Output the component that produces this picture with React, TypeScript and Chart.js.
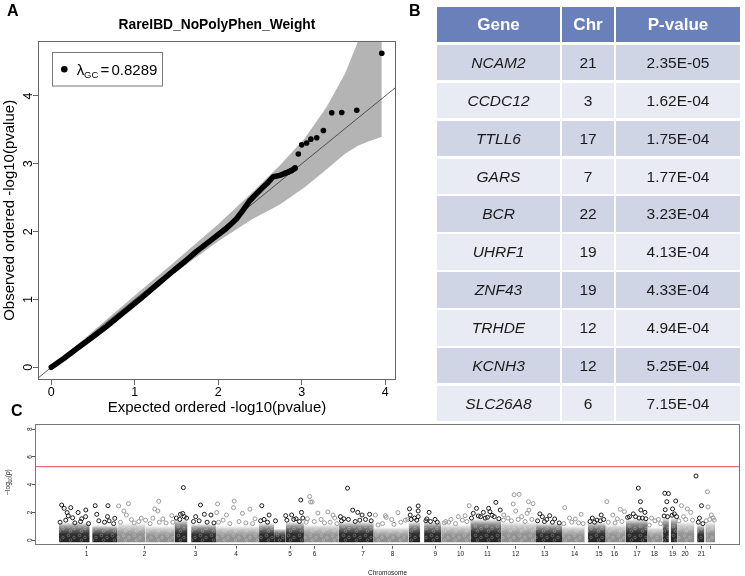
import React, { useEffect, useRef } from "react";
import { Chart, registerables } from "chart.js";
Chart.register(...registerables);

const FONT = '"Liberation Sans", Arial, Helvetica, sans-serif';

// ---------------- Panel A : QQ plot ----------------
const qqTitle = "RareIBD_NoPolyPhen_Weight";
const qqXTitle = "Expected ordered -log10(pvalue)";
const qqYTitle = "Observed ordered -log10(pvalue)";
const lambdaGC = "0.8289";
const qqXTicks = [0, 1, 2, 3, 4];
const qqYTicks = [0, 1, 2, 3, 4];
const curveExpected = [0, 0.15, 0.3, 0.5, 0.66, 0.85, 1.06, 1.25, 1.46, 1.6, 1.74, 1.9, 2.1, 2.22, 2.3, 2.38, 2.46, 2.54, 2.6, 2.66, 2.74, 2.84, 2.92];
const curveObserved = [0, 0.13, 0.27, 0.45, 0.6, 0.79, 1.0, 1.2, 1.42, 1.56, 1.71, 1.86, 2.05, 2.19, 2.32, 2.46, 2.56, 2.66, 2.73, 2.81, 2.83, 2.88, 2.93];
const tailExpected = [2.8, 2.84, 2.88, 2.92];
const tailObserved = [2.86, 2.88, 2.9, 2.94];
const topExpected = [3.96, 3.66, 3.48, 3.36, 3.26, 3.18, 3.11, 3.06, 3.0, 2.96];
const bandExpected = [0, 0.5, 1.0, 1.5, 2.0, 2.4, 2.74, 3.04, 3.3, 3.52, 3.68, 3.8, 3.96];
const bandUpper = [0.01, 0.53, 1.06, 1.58, 2.11, 2.57, 2.98, 3.38, 3.84, 4.33, 4.82, 5.2, 5.6];
const bandLower = [0, 0.48, 0.94, 1.41, 1.86, 2.18, 2.4, 2.66, 2.92, 3.15, 3.27, 3.33, 3.4];

// ---------------- Panel B : top genes ----------------
const tableHeaders = ["Gene", "Chr", "P-value"];
const genes = ["NCAM2", "CCDC12", "TTLL6", "GARS", "BCR", "UHRF1", "ZNF43", "TRHDE", "KCNH3", "SLC26A8"];
const geneChr = [21, 3, 17, 7, 22, 19, 19, 12, 12, 6];
const genePValue = [2.35e-5, 1.62e-4, 1.75e-4, 1.77e-4, 3.23e-4, 4.13e-4, 4.33e-4, 4.94e-4, 5.25e-4, 7.15e-4];
const genePos = [2795, 546, 2542, 1266, 2845, 2658, 2674, 2019, 1997, 1100];

// ---------------- Panel C : Manhattan ----------------
const chrTickPos = [121, 376, 599, 777, 1014, 1122, 1334, 1464, 1651, 1762, 1880, 2004, 2131, 2262, 2369, 2437, 2536, 2612, 2692, 2747, 2819, 2859];
const chrTickLabels = ["1", "2", "3", "4", "5", "6", "7", "8", "9", "10", "11", "12", "13", "14", "15", "16", "17", "18", "19", "20", "21", ""];
const manYTicks = [0, 2, 4, 6, 8];
const sigLine = 5.3;
const blockChr = [1, 1, 2, 2, 3, 3, 4, 5, 5, 5, 6, 7, 8, 9, 9, 10, 11, 12, 13, 14, 15, 16, 17, 18, 19, 19, 20, 21, 22];
const blockStart = [0, 146, 259, 380, 507, 580, 689, 878, 944, 995, 1075, 1228, 1381, 1534, 1602, 1678, 1805, 1940, 2093, 2207, 2320, 2399, 2487, 2583, 2648, 2684, 2714, 2800, 2836];
const blockEnd = [135, 258, 380, 507, 564, 689, 878, 944, 995, 1075, 1228, 1381, 1534, 1585, 1678, 1805, 1940, 2093, 2207, 2307, 2399, 2487, 2583, 2648, 2676, 2714, 2788, 2832, 2879];
const blockTop = [1.3, 1.1, 1.25, 1.05, 1.5, 1.2, 1.05, 1.25, 0.85, 1.35, 1.15, 1.35, 0.95, 1.35, 1.35, 1.15, 1.55, 1.35, 1.25, 1.05, 1.3, 1.15, 1.55, 0.95, 1.65, 1.65, 1.35, 1.15, 1.35];
const hitPos = [
  [12, 23, 52, 36, 41, 84, 118, 117, 159, 166, 215, 213, 245, 220, 100, 60, 5, 30, 70, 95, 130, 175, 200, 240],
  [262, 305, 285, 296, 420, 438, 434, 412, 456, 495, 361, 318, 380, 270, 330, 350, 400, 440, 470, 500],
  [533, 543, 621, 638, 667, 560, 600, 530, 515, 550, 590, 615, 650, 680],
  [696, 692, 769, 766, 735, 805, 838, 860, 720, 700, 750, 790, 820, 850],
  [890, 922, 995, 1021, 1061, 1064, 900, 950, 1040, 885, 915, 1000, 1030, 1055, 1070],
  [1104, 1111, 1136, 1180, 1202, 1150, 1210, 1090, 1085, 1120, 1165, 1190, 1220],
  [1235, 1289, 1311, 1330, 1363, 1250, 1345, 1240, 1270, 1300, 1320, 1370],
  [1388, 1432, 1436, 1487, 1460, 1520, 1400, 1420, 1470, 1500, 1530],
  [1538, 1541, 1576, 1576, 1576, 1624, 1614, 1560, 1650, 1545, 1570, 1610, 1630, 1660],
  [1697, 1752, 1782, 1800, 1720, 1770, 1690, 1710, 1740, 1790],
  [1832, 1818, 1862, 1885, 1891, 1917, 1936, 1850, 1900, 1870, 1810, 1840, 1880, 1910, 1930],
  [1952, 1993, 2004, 2060, 2080, 2062, 2054, 2030, 1970, 1950, 1985, 2015, 2045, 2075],
  [2121, 2153, 2175, 2110, 2140, 2100, 2130, 2165, 2195],
  [2219, 2291, 2265, 2240, 2215, 2250, 2280, 2300],
  [2379, 2340, 2390, 2360, 2330, 2350, 2375],
  [2404, 2430, 2463, 2481, 2450, 2410, 2440, 2470],
  [2503, 2551, 2553, 2571, 2520, 2560, 2495, 2530, 2545, 2575],
  [2600, 2630, 2615, 2590, 2640],
  [2667, 2692, 2706, 2660, 2700, 2655, 2670, 2690, 2710],
  [2731, 2757, 2772, 2740, 2720, 2750, 2780],
  [2819, 2810, 2805, 2825],
  [2848, 2862, 2870, 2840, 2855, 2875],
];
const hitLogP = [
  [2.54, 2.3, 2.35, 1.99, 1.76, 2.0, 2.18, 1.7, 2.49, 1.87, 2.49, 1.7, 1.58, 1.4, 1.55, 1.62, 1.3, 1.45, 1.25, 1.35, 1.2, 1.4, 1.3, 1.2],
  [2.47, 2.64, 2.11, 1.82, 2.26, 2.81, 2.11, 1.59, 1.54, 1.78, 1.59, 1.49, 1.45, 1.3, 1.25, 1.35, 1.2, 1.3, 1.25, 1.3],
  [1.87, 1.93, 2.54, 1.87, 1.82, 1.6, 1.7, 1.5, 1.6, 1.7, 1.35, 1.4, 1.3, 1.25],
  [2.61, 2.0, 2.82, 2.35, 1.82, 1.94, 2.24, 1.55, 1.45, 1.3, 1.2, 1.35, 1.25, 1.2],
  [2.49, 1.82, 1.77, 1.82, 2.9, 2.01, 1.5, 1.4, 1.55, 1.4, 1.3, 1.45, 1.5, 1.35, 1.6],
  [2.76, 2.76, 1.96, 2.04, 1.82, 1.5, 1.6, 1.55, 1.3, 1.35, 1.25, 1.3, 1.2],
  [1.7, 2.17, 2.01, 1.82, 1.87, 1.55, 1.5, 1.4, 1.5, 1.35, 1.45, 1.4],
  [1.82, 1.77, 1.65, 1.99, 1.5, 1.45, 1.1, 1.2, 1.15, 1.3, 1.5],
  [2.26, 1.82, 2.47, 2.11, 1.7, 2.01, 1.54, 1.6, 1.5, 1.5, 1.45, 1.4, 1.35, 1.3],
  [1.35, 1.7, 1.77, 2.49, 1.5, 1.45, 1.25, 1.3, 1.2, 1.35],
  [2.3, 1.94, 2.01, 2.3, 2.06, 2.73, 2.18, 1.7, 1.8, 1.6, 1.6, 1.75, 1.65, 1.7, 1.55],
  [1.82, 2.61, 2.11, 2.78, 2.64, 2.18, 1.94, 1.7, 1.6, 1.45, 1.4, 1.5, 1.35, 1.5],
  [1.7, 1.77, 1.54, 1.9, 1.5, 1.4, 1.35, 1.3, 1.25],
  [2.35, 1.87, 1.54, 1.6, 1.2, 1.3, 1.25, 1.2],
  [1.82, 1.6, 1.5, 1.45, 1.35, 1.3, 1.4],
  [2.78, 1.82, 2.23, 2.06, 1.55, 1.3, 1.25, 1.35],
  [1.7, 2.78, 2.18, 2.01, 1.9, 1.6, 1.65, 1.7, 1.6, 1.55],
  [1.6, 1.5, 1.4, 1.1, 1.2],
  [2.78, 2.26, 2.83, 2.2, 1.9, 1.75, 1.7, 1.8, 1.7],
  [2.49, 2.26, 2.01, 1.7, 1.4, 1.5, 1.45],
  [2.49, 1.6, 1.3, 1.2],
  [2.4, 1.82, 1.6, 1.4, 1.5, 1.45],
];

// ---------------- helpers ----------------
const DARK = "#1a1a1a";
const LIGHT = "#999999";
const chrMassRgb = (chr: number) => (chr % 2 === 1 ? "24,24,24" : "135,135,135");
const fmtP = (p: number) => {
  const [m, e] = p.toExponential(2).split("e");
  const ev = parseInt(e, 10);
  const n = Math.abs(ev);
  return `${m}E${ev < 0 ? "-" : "+"}${n < 10 ? "0" + n : n}`;
};
const negLog = (p: number) => -Math.log10(p);

function drawPieces(c: CanvasRenderingContext2D, pieces: { t: string; f: string; dy?: number }[], x: number, y: number, align: "left" | "center") {
  let total = 0;
  for (const p of pieces) { c.font = p.f; total += c.measureText(p.t).width; }
  let cx = align === "center" ? x - total / 2 : x;
  c.textAlign = "left";
  for (const p of pieces) {
    c.font = p.f;
    c.fillText(p.t, cx, y + (p.dy || 0));
    cx += c.measureText(p.t).width;
  }
}

// small ring texture so the dense part of the Manhattan plot reads as overlapping circles
let ringPattern: CanvasPattern | null = null;
function getRingPattern(ctx: CanvasRenderingContext2D) {
  if (ringPattern) return ringPattern;
  const t = document.createElement("canvas");
  t.width = 11;
  t.height = 9;
  const c = t.getContext("2d")!;
  c.strokeStyle = "rgba(255,255,255,0.32)";
  c.lineWidth = 0.8;
  const centres = [[2.5, 2.5], [8, 4.5], [4.5, 7.2]];
  for (const [x, y] of centres) {
    c.beginPath();
    c.arc(x, y, 1.3, 0, Math.PI * 2);
    c.stroke();
  }
  ringPattern = ctx.createPattern(t, "repeat");
  return ringPattern;
}

const qqDecor = {
  id: "qqDecor",
  afterDraw(chart: any) {
    const c: CanvasRenderingContext2D = chart.ctx;
    const a = chart.chartArea;
    const ys = chart.scales.y;
    c.save();
    c.strokeStyle = "#666";
    c.lineWidth = 1;
    c.strokeRect(Math.round(a.left) + 0.5, Math.round(a.top) + 0.5, Math.round(a.right - a.left) - 1, Math.round(a.bottom - a.top) - 1);
    c.fillStyle = "#000";
    c.textBaseline = "alphabetic";
    c.textAlign = "center";
    c.font = `bold 13.8px ${FONT}`;
    c.fillText(qqTitle, (a.left + a.right) / 2, 29);
    c.font = `15px ${FONT}`;
    c.fillText(qqXTitle, (a.left + a.right) / 2, 412);
    c.save();
    c.translate(14, (a.top + a.bottom) / 2);
    c.rotate(-Math.PI / 2);
    c.fillText(qqYTitle, 0, 0);
    c.restore();
    c.font = `12.5px ${FONT}`;
    for (const v of qqYTicks) {
      c.save();
      c.translate(32.3, ys.getPixelForValue(v));
      c.rotate(-Math.PI / 2);
      c.textAlign = "center";
      c.fillText(String(v), 0, 0);
      c.restore();
    }
    // legend
    c.fillStyle = "#fff";
    c.fillRect(52, 52.5, 110, 33.5);
    c.strokeStyle = "#777";
    c.strokeRect(52.5, 52.5, 110, 33.5);
    c.fillStyle = "#000";
    c.beginPath();
    c.arc(64.3, 69.3, 3.3, 0, Math.PI * 2);
    c.fill();
    c.textAlign = "left";
    c.font = `15px ${FONT}`;
    c.fillText("λ", 76.7, 75);
    c.font = `9.5px ${FONT}`;
    c.fillText("GC", 84, 78.3);
    c.font = `15px ${FONT}`;
    c.fillText("=", 100.5, 75);
    c.fillText(lambdaGC, 111.5, 75);
    c.restore();
  },
};

const manDecor = {
  id: "manDecor",
  afterDraw(chart: any) {
    const c: CanvasRenderingContext2D = chart.ctx;
    const a = chart.chartArea;
    const ys = chart.scales.y;
    c.save();
    c.strokeStyle = "#777";
    c.lineWidth = 1;
    c.strokeRect(Math.round(a.left) + 0.5, Math.round(a.top) + 0.5, Math.round(a.right - a.left) - 1, Math.round(a.bottom - a.top) - 1);
    c.fillStyle = "#222";
    c.textBaseline = "alphabetic";
    c.font = `6.5px ${FONT}`;
    for (const v of manYTicks) {
      c.save();
      c.translate(31.7, ys.getPixelForValue(v));
      c.rotate(-Math.PI / 2);
      c.textAlign = "center";
      c.fillText(String(v), 0, 0);
      c.restore();
    }
    c.save();
    c.translate(10, 84);
    c.rotate(-Math.PI / 2);
    drawPieces(c, [
      { t: "\u2212log", f: `6.5px ${FONT}` },
      { t: "10", f: `4.5px ${FONT}`, dy: 1.5 },
      { t: "(", f: `6.5px ${FONT}` },
      { t: "p", f: `italic 6.5px ${FONT}` },
      { t: ")", f: `6.5px ${FONT}` },
    ], 0, 0, "center");
    c.restore();
    c.textAlign = "center";
    c.font = `6.5px ${FONT}`;
    c.fillText("Chromosome", (a.left + a.right) / 2, 177);
    c.restore();
  },
};

const massFill = (ctx: any) => {
  const chart = ctx.chart;
  const ds = ctx.dataset;
  const ys = chart && chart.scales ? chart.scales.y : null;
  if (!chart || !chart.chartArea || !ys || !ds) return "rgba(0,0,0,0)";
  const y0 = ys.getPixelForValue(-0.14);
  const y1 = ys.getPixelForValue(ds.massTop);
  if (!isFinite(y0) || !isFinite(y1) || y0 === y1) return "rgba(0,0,0,0)";
  const g = chart.ctx.createLinearGradient(0, y0, 0, y1);
  const rgb = ds.massRgb;
  g.addColorStop(0, `rgba(${rgb},0.95)`);
  g.addColorStop(0.4, `rgba(${rgb},0.9)`);
  g.addColorStop(0.75, `rgba(${rgb},0.5)`);
  g.addColorStop(1, `rgba(${rgb},0.0)`);
  return g;
};

const textureFill = (ctx: any) => {
  const chart = ctx.chart;
  if (!chart || !chart.ctx) return "rgba(0,0,0,0)";
  return getRingPattern(chart.ctx) || "rgba(0,0,0,0)";
};

function QQPanel() {
  const ref = useRef<HTMLCanvasElement>(null);
  useEffect(() => {
    if (!ref.current) return;
    const axisGrid = { drawOnChartArea: false, drawTicks: true, tickLength: 5, color: "#666", lineWidth: 1 };
    const chart = new Chart(ref.current, {
      type: "line",
      data: {
        datasets: [
          { data: bandExpected.map((x, i) => ({ x, y: bandLower[i] })), borderColor: "rgba(0,0,0,0)", borderWidth: 0, pointRadius: 0, fill: false, clip: 0, order: 10 },
          { data: bandExpected.map((x, i) => ({ x, y: bandUpper[i] })), borderColor: "rgba(0,0,0,0)", borderWidth: 0, pointRadius: 0, fill: "-1", backgroundColor: "#b4b4b4", clip: 0, order: 9 },
          { data: [{ x: -1, y: -1 }, { x: 6, y: 6 }], borderColor: "#333", borderWidth: 0.8, pointRadius: 0, fill: false, clip: 0, order: 5 },
          { data: curveExpected.map((x, i) => ({ x, y: curveObserved[i] })), borderColor: "#000", borderWidth: 5.5, pointRadius: 0, borderCapStyle: "round", borderJoinStyle: "round", fill: false, order: 2 },
          {
            data: [
              ...tailExpected.map((x, i) => ({ x, y: tailObserved[i] })),
              ...topExpected.map((x, i) => ({ x, y: negLog(genePValue[i]) })),
            ],
            showLine: false, pointRadius: 2.8, pointBackgroundColor: "#000", pointBorderWidth: 0, fill: false, order: 1,
          },
        ],
      } as any,
      options: {
        animation: false,
        responsive: false,
        devicePixelRatio: 1,
        events: [],
        layout: { padding: { left: 0, right: 9, top: 40.7, bottom: 0 } },
        plugins: { legend: { display: false }, tooltip: { enabled: false } },
        scales: {
          x: {
            type: "linear", min: -0.159, max: 4.13,
            afterBuildTicks: (s: any) => { s.ticks = qqXTicks.map((v) => ({ value: v })); },
            afterFit: (s: any) => { s.height = 40; },
            grid: axisGrid, border: { display: false },
            ticks: { color: "#000", font: { family: FONT, size: 12.5 }, padding: 0, autoSkip: false, maxRotation: 0, minRotation: 0, callback: (v: any) => String(v) },
          },
          y: {
            type: "linear", min: -0.187, max: 4.815,
            afterBuildTicks: (s: any) => { s.ticks = qqYTicks.map((v) => ({ value: v })); },
            afterFit: (s: any) => { s.width = 38; },
            grid: axisGrid, border: { display: false },
            ticks: { display: false },
          },
        },
      } as any,
      plugins: [qqDecor],
    });
    return () => chart.destroy();
  }, []);
  return <canvas ref={ref} width={405} height={420} style={{ position: "absolute", left: 0, top: 0, width: 405, height: 420 }} />;
}

function ManhattanPanel() {
  const ref = useRef<HTMLCanvasElement>(null);
  useEffect(() => {
    if (!ref.current) return;
    const axisGrid = { drawOnChartArea: false, drawTicks: true, tickLength: 3, color: "#555", lineWidth: 1 };
    const massSets = blockChr.map((chr, i) => ({
      data: [{ x: blockStart[i], y: blockTop[i] }, { x: blockEnd[i], y: blockTop[i] }],
      borderColor: "rgba(0,0,0,0)", borderWidth: 0, pointRadius: 0,
      fill: { value: -0.14 }, backgroundColor: massFill, massTop: blockTop[i], massRgb: chrMassRgb(chr),
      clip: 0, order: 7,
    }));
    const textureSets = blockChr.map((chr, i) => ({
      data: [{ x: blockStart[i], y: blockTop[i] * 0.75 }, { x: blockEnd[i], y: blockTop[i] * 0.75 }],
      borderColor: "rgba(0,0,0,0)", borderWidth: 0, pointRadius: 0,
      fill: { value: -0.14 }, backgroundColor: textureFill,
      clip: 0, order: 6,
    }));
    const pts = (odd: boolean) => {
      const out: { x: number; y: number }[] = [];
      hitPos.forEach((arr, ci) => {
        const chr = ci + 1;
        if ((chr % 2 === 1) !== odd) return;
        arr.forEach((x, j) => out.push({ x, y: hitLogP[ci][j] }));
      });
      genePos.forEach((x, gi) => {
        if ((geneChr[gi] % 2 === 1) === odd) out.push({ x, y: negLog(genePValue[gi]) });
      });
      return out;
    };
    const chart = new Chart(ref.current, {
      type: "line",
      data: {
        datasets: [
          ...massSets,
          ...textureSets,
          { data: pts(false), showLine: false, pointRadius: 2, pointBorderWidth: 1, pointBorderColor: LIGHT, pointBackgroundColor: "rgba(0,0,0,0)", fill: false, order: 4 },
          { data: pts(true), showLine: false, pointRadius: 2, pointBorderWidth: 1, pointBorderColor: DARK, pointBackgroundColor: "rgba(0,0,0,0)", fill: false, order: 3 },
          { data: [{ x: -300, y: sigLine }, { x: 3200, y: sigLine }], borderColor: "rgb(236,112,112)", borderWidth: 1.2, pointRadius: 0, fill: false, clip: 0, order: 1 },
        ],
      } as any,
      options: {
        animation: false,
        responsive: false,
        devicePixelRatio: 1,
        events: [],
        layout: { padding: { left: 0, right: 2.3, top: 26.3, bottom: 0 } },
        plugins: { legend: { display: false }, tooltip: { enabled: false } },
        scales: {
          x: {
            type: "linear", min: -105, max: 2988,
            afterBuildTicks: (s: any) => { s.ticks = chrTickPos.map((v) => ({ value: v })); },
            afterFit: (s: any) => { s.height = 30.3; },
            grid: axisGrid, border: { display: false },
            ticks: { color: "#222", font: { family: FONT, size: 6.5 }, padding: 2.1, autoSkip: false, maxRotation: 0, minRotation: 0, callback: (_v: any, i: number) => chrTickLabels[i] },
          },
          y: {
            type: "linear", min: -0.39, max: 8.35,
            afterBuildTicks: (s: any) => { s.ticks = manYTicks.map((v) => ({ value: v })); },
            afterFit: (s: any) => { s.width = 35; },
            grid: axisGrid, border: { display: false },
            ticks: { display: false },
          },
        },
      } as any,
      plugins: [manDecor],
    });
    return () => chart.destroy();
  }, []);
  return <canvas ref={ref} width={745} height={178} style={{ position: "absolute", left: 0, top: 398, width: 745, height: 178 }} />;
}

function GeneTable() {
  const cell = (bg: string): React.CSSProperties => ({
    background: bg, display: "flex", alignItems: "center", justifyContent: "center", color: "#1a1a1a", fontSize: "15.5px",
  });
  const header: React.CSSProperties = { background: "#6a80ba", display: "flex", alignItems: "center", justifyContent: "center", color: "#fff", fontWeight: "bold", fontSize: "17px" };
  return (
    <div style={{ position: "absolute", left: 437, top: 7, width: 303, display: "grid", gridTemplateColumns: "123px 52px 124px", gridTemplateRows: "repeat(11, 35.4px)", columnGap: "2px", rowGap: "2.5px", fontFamily: FONT, lineHeight: 1 }}>
      {tableHeaders.map((h) => <div key={h} style={header}>{h}</div>)}
      {genes.map((g, i) => {
        const bg = i % 2 === 0 ? "#d0d5e6" : "#e9ebf4";
        return (
          <React.Fragment key={g}>
            <div style={{ ...cell(bg), fontStyle: "italic" }}>{g}</div>
            <div style={cell(bg)}>{geneChr[i]}</div>
            <div style={cell(bg)}>{fmtP(genePValue[i])}</div>
          </React.Fragment>
        );
      })}
    </div>
  );
}

const letter = (left: number, top: number): React.CSSProperties => ({
  position: "absolute", left, top, fontFamily: FONT, fontWeight: "bold", fontSize: "16px", lineHeight: "16px", color: "#000",
});

export default function App() {
  return (
    <div style={{ position: "absolute", left: 0, top: 0, width: 745, height: 576, background: "#fff", overflow: "hidden" }}>
      <QQPanel />
      <ManhattanPanel />
      <GeneTable />
      <div style={letter(7, 3)}>A</div>
      <div style={letter(409, 3)}>B</div>
      <div style={letter(11, 403)}>C</div>
    </div>
  );
}
